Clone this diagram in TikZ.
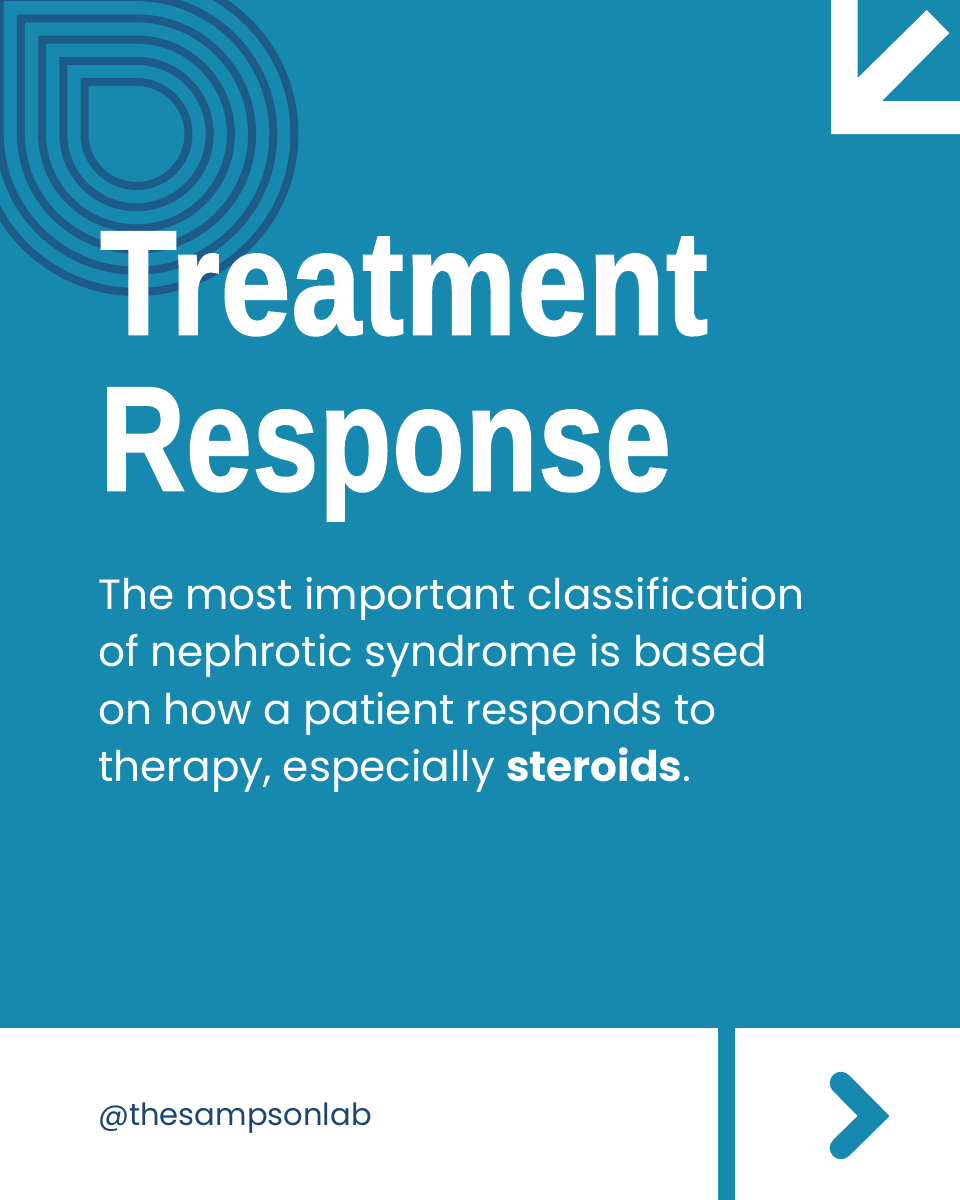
\documentclass[tikz,border=0pt]{standalone}
\usepackage{fontspec}
\setmainfont{Poppins}
\newfontfamily\titlefont{Liberation Sans}[BoldFont=* Bold,BoldFeatures={FakeBold=1.7,LetterSpace=1}]
\definecolor{bgblue}{RGB}{23,137,175}
\definecolor{dropblue}{RGB}{29,92,138}
\definecolor{navy}{RGB}{27,70,115}
\tikzset{
  x=1pt,y=-1pt,
  droppath/.style={draw=dropblue,line width=8pt,line join=miter},
  titletext/.style={anchor=base west,inner sep=0pt,text=white,font=\titlefont\bfseries\fontsize{148}{148}\selectfont},
  bodytext/.style={anchor=base west,inner sep=0pt,text=white,font=\fontsize{42.2}{50}\selectfont},
}
\newcommand{\dropring}[1]{\draw[droppath] (136.5-#1,134-#1) -- (136.5,134-#1) arc[start angle=90,end angle=-180,radius=#1pt] -- cycle;}
\begin{document}
\begin{tikzpicture}
\useasboundingbox (0,0) rectangle (960,1200);
\fill[bgblue] (0,0) rectangle (960,1200);
\begin{scope}
\clip (0,0) rectangle (960,1200);
\foreach \r in {52,73.2,94.4,115.6,136.8,158}{\dropring{\r}}
\end{scope}
\fill[white] (831,0) -- (857.7,0) -- (857.7,78) -- (926.7,10) -- (949.3,33) -- (882,101) -- (960,101) -- (960,134) -- (831,134) -- cycle;
\fill[white] (0,1028) rectangle (960,1200);
\fill[bgblue] (718,1028) rectangle (734.5,1200);
\draw[bgblue,line width=22.5pt,line cap=round,line join=miter] (841,1083) -- (873.6,1116) -- (841,1148);
\node[titletext,xscale=0.845] (t1) at (100,334) {Treatment};
\node[titletext,xscale=0.795] (t2) at (100,490) {Response};
\node[bodytext] (b1) at (98,609) {The most important classification};
\node[bodytext] (b2) at (98,666) {of nephrotic syndrome is based};
\node[bodytext] (b3) at (98,724) {on how a patient responds to};
\node[bodytext] (b4) at (98,781) {therapy, especially \textbf{steroids}.};
\node[anchor=base west,inner sep=0pt,text=navy,font=\fontsize{30.6}{36}\selectfont] (h) at (98,1125) {@thesampsonlab};
\end{tikzpicture}
\end{document}
